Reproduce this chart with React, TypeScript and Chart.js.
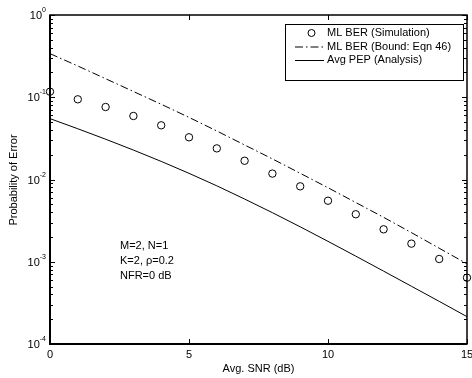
import React, { useEffect, useRef } from "react";
import { Chart, registerables } from "chart.js";

Chart.register(...registerables);

// ---- data ----
const snrDb = [0, 1, 2, 3, 4, 5, 6, 7, 8, 9, 10, 11, 12, 13, 14, 15];
const mlBerSim = [
  0.1168, 0.0944, 0.0761, 0.0592, 0.0456, 0.0326, 0.0239, 0.0169,
  0.0118, 0.00826, 0.00552, 0.00378, 0.00248, 0.00166, 0.00108, 0.00064,
];
const mlBerBound = [
  0.339, 0.24, 0.168, 0.1175, 0.0822, 0.0569, 0.0389, 0.0263,
  0.0178, 0.0119, 0.00794, 0.00525, 0.00347, 0.00226, 0.00146, 0.000944,
];
const avgPep = [
  0.05495, 0.0414, 0.0309, 0.0228, 0.0166, 0.01189, 0.00838, 0.00579,
  0.00395, 0.00266, 0.00177, 0.00117, 0.000769, 0.000504, 0.00033, 0.000215,
];
const xTickValues = [0, 5, 10, 15];
const yTickExponents = [0, -1, -2, -3, -4];
const legendLabels = ["ML BER (Simulation)", "ML BER (Bound: Eqn 46)", "Avg PEP (Analysis)"];
const annotationLines = ["M=2, N=1", "K=2, \u03c1=0.2", "NFR=0 dB"];
const xTitle = "Avg. SNR (dB)";
const yTitle = "Probability of Error";

const FONT = '"Liberation Sans", Arial, Helvetica, sans-serif';
const DASH = [8, 3, 1.5, 3];

const decor = {
  id: "decor",
  beforeDatasetsDraw(chart: any) {
    const { ctx, chartArea, scales } = chart;
    const { left, right, top, bottom } = chartArea;
    const x = scales.x;
    const y = scales.y;
    ctx.save();
    ctx.strokeStyle = "#000";
    ctx.lineWidth = 1;
    ctx.beginPath();
    xTickValues.forEach((v) => {
      const px = Math.round(x.getPixelForValue(v)) + 0.5;
      ctx.moveTo(px, bottom);
      ctx.lineTo(px, bottom - 5);
      ctx.moveTo(px, top);
      ctx.lineTo(px, top + 5);
    });
    const minE = Math.min(...yTickExponents);
    const maxE = Math.max(...yTickExponents);
    for (let e = minE; e <= maxE; e++) {
      for (let m = 1; m <= 9; m++) {
        if (e === maxE && m > 1) break;
        const val = m * Math.pow(10, e);
        const py = Math.round(y.getPixelForValue(val)) + 0.5;
        const len = m === 1 ? 5 : 3;
        ctx.moveTo(left, py);
        ctx.lineTo(left + len, py);
        ctx.moveTo(right, py);
        ctx.lineTo(right - len, py);
      }
    }
    ctx.stroke();
    // frame
    ctx.lineWidth = 1.5;
    ctx.strokeRect(left, top, right - left, bottom - top);
    ctx.lineWidth = 2;
    ctx.beginPath();
    ctx.moveTo(left, top);
    ctx.lineTo(left, bottom);
    ctx.lineTo(right, bottom);
    ctx.stroke();
    ctx.restore();
  },
  afterDraw(chart: any) {
    const { ctx, chartArea, scales } = chart;
    const { left, right, bottom } = chartArea;
    const x = scales.x;
    const y = scales.y;
    ctx.save();
    ctx.fillStyle = "#000";
    // x tick labels
    ctx.font = `11px ${FONT}`;
    ctx.textAlign = "center";
    ctx.textBaseline = "middle";
    xTickValues.forEach((v) => {
      ctx.fillText(String(v), x.getPixelForValue(v), bottom + 11);
    });
    // y tick labels
    yTickExponents.forEach((e) => {
      const py = y.getPixelForValue(Math.pow(10, e));
      const sup = e === 0 ? "0" : "-" + String(-e);
      ctx.font = `7px ${FONT}`;
      const sw = ctx.measureText(sup).width;
      const supLeft = left - 4 - sw;
      ctx.textAlign = "left";
      ctx.textBaseline = "alphabetic";
      ctx.fillText(sup, supLeft, py - 3);
      ctx.font = `11px ${FONT}`;
      ctx.textAlign = "right";
      ctx.textBaseline = "middle";
      ctx.fillText("10", supLeft, py + 1);
    });
    // axis titles
    ctx.font = `11px ${FONT}`;
    ctx.textAlign = "center";
    ctx.textBaseline = "middle";
    ctx.fillText(xTitle, (left + right) / 2, bottom + 25);
    ctx.save();
    ctx.translate(14, 180);
    ctx.rotate(-Math.PI / 2);
    ctx.fillText(yTitle, 0, 0);
    ctx.restore();
    // annotation
    ctx.textAlign = "left";
    annotationLines.forEach((t, i) => {
      ctx.fillText(t, 120, 246 + i * 15);
    });
    // legend
    const bx = 285, by = 24, bw = 178, bh = 56;
    ctx.fillStyle = "#fff";
    ctx.fillRect(bx, by, bw, bh);
    ctx.strokeStyle = "#000";
    ctx.lineWidth = 1;
    ctx.strokeRect(bx + 0.5, by + 0.5, bw, bh);
    const rows = [33, 46.5, 60];
    ctx.fillStyle = "#000";
    ctx.textAlign = "left";
    ctx.textBaseline = "middle";
    legendLabels.forEach((t, i) => {
      ctx.fillText(t, 327, rows[i]);
    });
    // markers
    ctx.beginPath();
    ctx.arc(311.5, rows[0], 3.5, 0, Math.PI * 2);
    ctx.stroke();
    ctx.setLineDash(DASH);
    ctx.beginPath();
    ctx.moveTo(295, rows[1] + 0.5);
    ctx.lineTo(324, rows[1] + 0.5);
    ctx.stroke();
    ctx.setLineDash([]);
    ctx.beginPath();
    ctx.moveTo(295, rows[2] + 0.5);
    ctx.lineTo(324, rows[2] + 0.5);
    ctx.stroke();
    ctx.restore();
  },
};

export default function App() {
  const canvasRef = useRef<HTMLCanvasElement | null>(null);
  useEffect(() => {
    const canvas = canvasRef.current;
    if (!canvas) return;
    const toPts = (arr: number[]) => snrDb.map((s, i) => ({ x: s, y: arr[i] }));
    const chart = new Chart(canvas, {
      type: "line",
      data: {
        datasets: [
          {
            label: legendLabels[0],
            data: toPts(mlBerSim),
            showLine: false,
            pointStyle: "circle",
            pointRadius: 3.7,
            pointBorderWidth: 1,
            pointBorderColor: "#000",
            pointBackgroundColor: "rgba(0,0,0,0)",
            clip: false,
          },
          {
            label: legendLabels[1],
            data: toPts(mlBerBound),
            borderColor: "#000",
            borderWidth: 1,
            borderDash: DASH,
            pointRadius: 0,
            tension: 0,
          },
          {
            label: legendLabels[2],
            data: toPts(avgPep),
            borderColor: "#000",
            borderWidth: 1,
            pointRadius: 0,
            tension: 0,
          },
        ],
      },
      options: {
        animation: false,
        responsive: false,
        devicePixelRatio: 1,
        layout: { padding: { left: 50, top: 15, right: 4, bottom: 34 } },
        plugins: { legend: { display: false }, tooltip: { enabled: false } },
        events: [],
        scales: {
          x: { type: "linear", min: 0, max: 15, display: false },
          y: { type: "logarithmic", min: 1e-4, max: 1, display: false },
        },
      },
      plugins: [decor],
    } as any);
    return () => chart.destroy();
  }, []);
  return (
    <div style={{ position: "absolute", left: 0, top: 0, width: 472, height: 378, background: "#fff" }}>
      <canvas ref={canvasRef} width={472} height={378} style={{ display: "block" }} />
    </div>
  );
}
